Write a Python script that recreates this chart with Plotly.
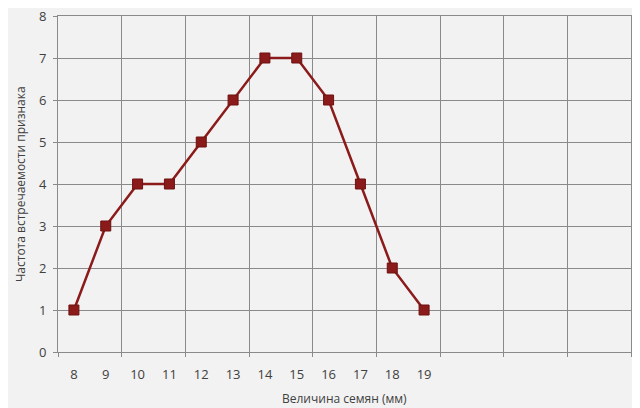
import plotly.graph_objects as go

sizes = [8, 9, 10, 11, 12, 13, 14, 15, 16, 17, 18, 19]
freq = [1, 3, 4, 4, 5, 6, 7, 7, 6, 4, 2, 1]
x_title = "Величина семян (мм)"
y_title = "Частота встречаемости признака"

grid = "#8a8a8a"
red = "#8b1a1a"
font = "Open Sans"

fig = go.Figure()
fig.add_trace(go.Scatter(
    x=sizes, y=freq, mode="lines+markers",
    line=dict(color=red, width=2.5),
    marker=dict(symbol="square", size=10, color=red, line=dict(color="#6e1010", width=1)),
    showlegend=False,
))

fig.update_layout(
    width=632, height=400,
    margin=dict(l=50, r=9, t=8, b=56),
    paper_bgcolor="#f2f2f2", plot_bgcolor="#f2f2f2",
    font=dict(family=font, size=13, color="#404040"),
    xaxis=dict(
        range=[7.5, 25.5], tickvals=sizes, ticktext=[str(s) for s in sizes],
        showgrid=False, zeroline=False, ticks="", automargin=False,
        showline=True, linecolor=grid, linewidth=1, mirror=True,
        ticklabelstandoff=10,
        minor=dict(tick0=7.5, dtick=2, showgrid=True, gridcolor=grid, gridwidth=1,
                   ticks="outside", ticklen=4, tickcolor=grid),
    ),
    yaxis=dict(
        range=[0, 8], dtick=1, showgrid=True, gridcolor=grid, gridwidth=1,
        zeroline=False, ticks="outside", ticklen=4, tickcolor=grid, automargin=False,
        showline=True, linecolor=grid, linewidth=1, mirror=True,
        ticklabelstandoff=4, ticklabeloverflow="allow",
    ),
    annotations=[
        dict(text=x_title, xref="paper", yref="paper", x=0.5, y=0, yshift=-46,
             xanchor="center", yanchor="middle", showarrow=False,
             font=dict(size=12, family=font, color="#404040")),
        dict(text=y_title, xref="paper", yref="paper", x=0, y=0.5, xshift=-38,
             xanchor="center", yanchor="middle", showarrow=False, textangle=-90,
             font=dict(size=12, family=font, color="#404040")),
    ],
)

fig.write_html("out.html")
